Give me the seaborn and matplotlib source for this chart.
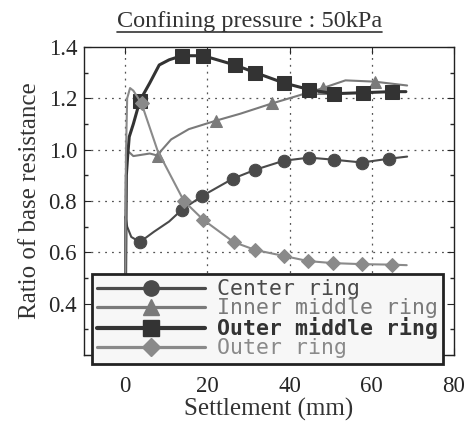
import matplotlib
matplotlib.use("Agg")
import matplotlib.pyplot as plt
import seaborn as sns
from matplotlib.lines import Line2D

# ---- data ----
center_x = [0, 0.1, 0.5, 1.5, 3.6, 7, 10.7, 13.8, 18.8, 26.2, 31.7, 38.6, 44.8, 50.7, 57.6, 64.3, 68.6]
center_y = [0.25, 0.74, 0.70, 0.66, 0.64, 0.68, 0.72, 0.766, 0.82, 0.887, 0.922, 0.957, 0.969, 0.961, 0.95, 0.965, 0.973]
center_marks = [4, 7, 8, 9, 10, 11, 12, 13, 14, 15]

inner_x = [0, 0.3, 1, 2, 4, 6, 7.9, 9, 11.2, 15.5, 22.1, 28, 35.7, 42, 48.1, 53.6, 60.7, 68.6]
inner_y = [0.25, 0.98, 0.99, 0.975, 0.98, 0.985, 0.977, 1.0, 1.04, 1.08, 1.113, 1.14, 1.18, 1.21, 1.24, 1.27, 1.265, 1.25]
inner_marks = [6, 10, 12, 14, 16]

outmid_x = [0, 0.3, 0.6, 1, 2, 3.6, 6, 8.3, 10.7, 13.8, 19, 26.7, 31.7, 38.6, 44.8, 50.7, 57.9, 64.8, 68.3]
outmid_y = [0.25, 0.9, 0.97, 1.05, 1.1, 1.191, 1.26, 1.33, 1.35, 1.366, 1.366, 1.33, 1.30, 1.26, 1.234, 1.218, 1.222, 1.226, 1.226]
outmid_marks = [5, 9, 10, 11, 12, 13, 14, 15, 16, 17]

outer_x = [0, 0.2, 0.5, 1.2, 2, 4, 7.9, 14.3, 19, 26.4, 31.7, 38.6, 44.5, 50.5, 57.6, 64.8, 68.5]
outer_y = [0.25, 0.98, 1.2, 1.24, 1.23, 1.18, 0.996, 0.80, 0.727, 0.64, 0.609, 0.586, 0.566, 0.558, 0.554, 0.552, 0.55]
outer_marks = [5, 7, 8, 9, 10, 11, 12, 13, 14, 15]

labels = ["Center ring", "Inner middle ring", "Outer middle ring", "Outer ring"]

sns.set_theme(style="ticks")
plt.rcParams["font.family"] = ["Liberation Serif", "DejaVu Serif"]

fig = plt.figure(figsize=(4.65, 4.21), dpi=100)
ax = fig.add_axes([84 / 465, 1 - 355 / 421, (454 - 84) / 465, (355 - 47) / 421])

series = [
    (center_x, center_y, center_marks, "o", "#4a4a4a", 1.5, 9),
    (inner_x, inner_y, inner_marks, "^", "#7a7a7a", 1.5, 9),
    (outmid_x, outmid_y, outmid_marks, "s", "#333333", 2.2, 10),
    (outer_x, outer_y, outer_marks, "D", "#8a8a8a", 1.5, 7),
]
for (xs, ys, marks, mk, col, lw, ms), lab in zip(series, labels):
    sns.lineplot(x=xs, y=ys, ax=ax, sort=False, estimator=None, color=col,
                 linewidth=lw, marker=mk, markersize=ms, markevery=marks,
                 markeredgecolor=col, markerfacecolor=col)

ax.set_xlim(-10, 80)
ax.set_ylim(0.2, 1.4)
ax.set_xticks([0, 20, 40, 60, 80])
ax.set_yticks([0.2, 0.4, 0.6, 0.8, 1.0, 1.2, 1.4])
ax.set_yticklabels(["", "0.4", "0.6", "0.8", "1.0", "1.2", "1.4"])
ax.set_yticks([0.3, 0.5, 0.7, 0.9, 1.1, 1.3], minor=True)
ax.tick_params(direction="in", top=True, right=True, labelsize=16.5, length=5, width=0.8)
ax.tick_params(axis="y", pad=5)
ax.tick_params(axis="x", pad=15)
ax.tick_params(which="minor", direction="in", right=True, length=3)
for s in ax.spines.values():
    s.set_linewidth(1.0)
    s.set_color("#222222")

for gx in [0, 20, 40, 60]:
    ax.axvline(gx, color="#555555", linestyle=(0, (1.5, 4)), linewidth=0.9, zorder=0)
for gy in [0.6, 0.8, 1.0, 1.2]:
    ax.axhline(gy, color="#555555", linestyle=(0, (1.5, 4)), linewidth=0.9, zorder=0)

ax.set_xlabel("Settlement (mm)", fontsize=18, labelpad=1, color="#333333")
ax.set_ylabel("Ratio of base resistance", fontsize=18, labelpad=5, color="#333333")

# legend
handles = []
for (xs, ys, marks, mk, col, lw, ms), lab in zip(series, labels):
    handles.append(Line2D([0], [0], color=col, linewidth=lw + 0.8, marker=mk,
                          markersize=ms + 2, markerfacecolor=col, markeredgecolor=col, label=lab))
leg = ax.legend(handles=handles, loc="upper left", bbox_to_anchor=(92 / 465, 1 - 274 / 421),
                bbox_transform=fig.transFigure, handlelength=5.0, handletextpad=0.55,
                labelspacing=-0.05, borderpad=0.25, borderaxespad=0, fancybox=False,
                prop={"family": "DejaVu Sans Mono", "size": 15.5}, framealpha=1)
leg.get_frame().set_edgecolor("#222222")
leg.get_frame().set_linewidth(2)
leg.get_frame().set_facecolor("#f7f7f7")
txt_cols = ["#4a4a4a", "#7a7a7a", "#333333", "#8a8a8a"]
for t, c, lab in zip(leg.get_texts(), txt_cols, labels):
    t.set_color(c)
    if lab == "Outer middle ring":
        t.set_fontweight("bold")
leg.set_zorder(10)

# title with underline
title = fig.text(0.537, 1 - 21 / 421, "Confining pressure : 50kPa", ha="center", va="center",
                 fontsize=17.5, color="#333333")
fig.canvas.draw()
bb = title.get_window_extent().transformed(fig.transFigure.inverted())
fig.add_artist(Line2D([bb.x0, bb.x1], [bb.y0 - 0.002, bb.y0 - 0.002], transform=fig.transFigure,
                      color="#333333", linewidth=1.2))

fig.savefig("out.png", dpi=100)
